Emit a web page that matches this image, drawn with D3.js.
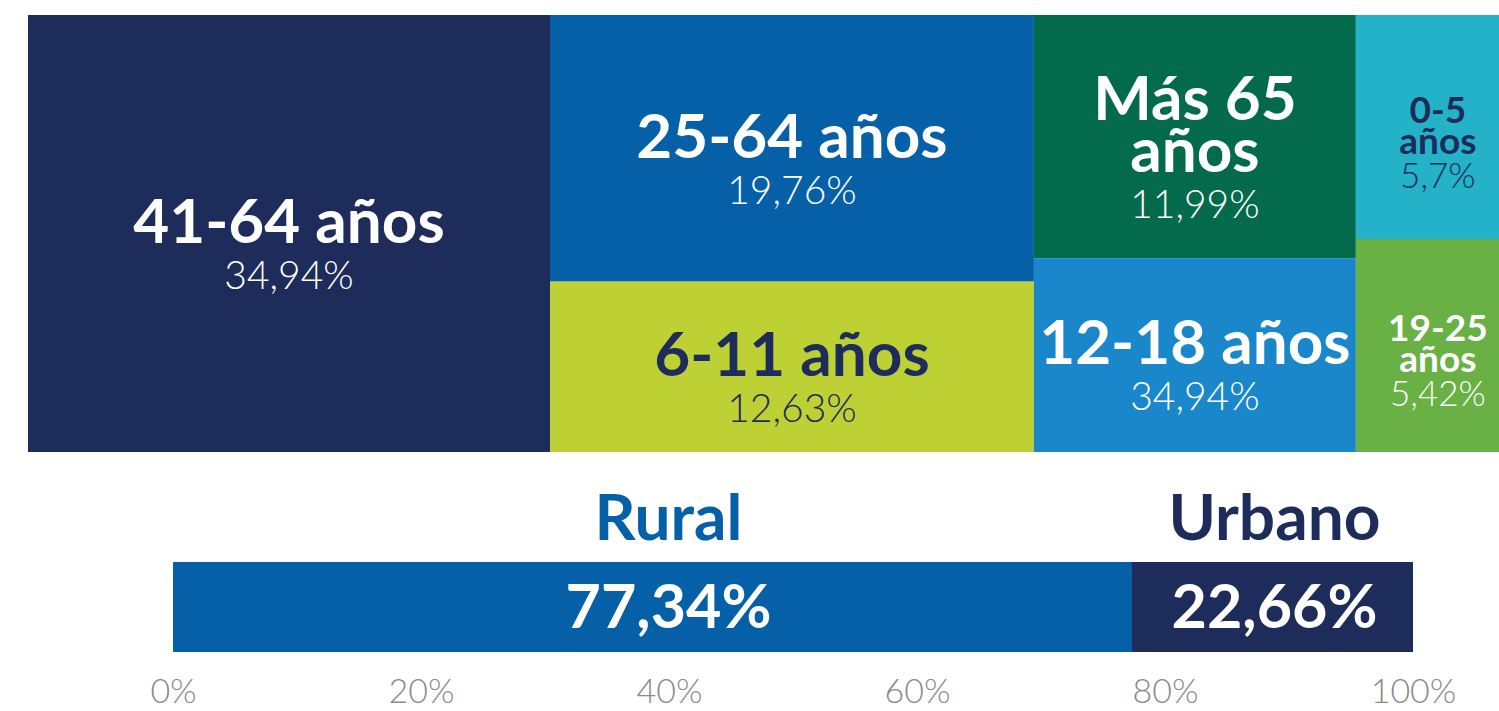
<!DOCTYPE html>
<html>
<head>
<meta charset="utf-8">
<script src="https://cdn.jsdelivr.net/npm/d3@7"></script>
<style>
  body { margin: 0; background: #fff; }
  svg { display: block; font-family: Lato, "Open Sans", sans-serif; }
</style>
</head>
<body>
<svg id="chart" width="1499" height="711"></svg>
<script>
// grupos de edad (treemap), con los saltos de línea de la imagen
const grupos = [["41-64 años"], ["25-64 años"], ["6-11 años"], ["Más 65", "años"], ["12-18 años"], ["0-5", "años"], ["19-25", "años"]];
const porcentajes = [34.94, 19.76, 12.63, 11.99, 9.56, 5.7, 5.42];
// texto tal como aparece en la imagen
const etiquetas = ["34,94%", "19,76%", "12,63%", "11,99%", "34,94%", "5,7%", "5,42%"];
const columna = [0, 1, 1, 2, 2, 3, 3];
const colores = ["#1e2c5b", "#0560a8", "#bdd034", "#036b4b", "#1a87cb", "#23b2c7", "#69b145"];
const colorTexto = ["#fff", "#fff", "#1e2c5b", "#fff", "#fff", "#1e2c5b", "#fff"];

// zona rural / urbana
const zonas = ["Rural", "Urbano"];
const zonaValores = [77.34, 22.66];
const zonaEtiquetas = ["77,34%", "22,66%"];
const zonaColores = ["#0560a8", "#1e2c5b"];
const ticks = [0, 20, 40, 60, 80, 100];

const svg = d3.select("#chart");

// ---- treemap ----
var tm = { left: 28, top: 15, w: 1494, h: 437 };

var cols = d3.range(d3.max(columna) + 1).map(c => ({
  children: grupos.map((g, i) => ({ lines: g, value: porcentajes[i], i: i }))
                  .filter(d => columna[d.i] === c)
}));

var root = d3.hierarchy({ children: cols })
  .sum(d => d.value || 0);

d3.treemap()
  .tile(d3.treemapSliceDice)
  .size([tm.w, tm.h])
  .round(false)(root);

var g = svg.append("g").attr("transform", `translate(${tm.left},${tm.top})`);

var cell = g.selectAll(".cell")
  .data(root.leaves())
  .enter().append("g")
  .attr("class", "cell");

cell.append("rect")
  .attr("x", d => d.x0)
  .attr("y", d => d.y0)
  .attr("width", d => d.x1 - d.x0)
  .attr("height", d => d.y1 - d.y0)
  .attr("fill", d => colores[d.data.i]);

cell.each(function(d) {
  var w = d.x1 - d.x0;
  var small = w < 200;
  var fsT = small ? 37 : 62;
  var fsP = small ? 35 : 39;
  var lh = small ? 31 : 52;
  var gap = small ? 34 : 46;
  var cx = (d.x0 + d.x1) / 2;
  if (small) cx = d.x0 + 82;
  var sel = d3.select(this);
  var col = colorTexto[d.data.i];
  var lines = d.data.lines;

  var cap = fsT * 0.72;
  var block = cap + (lines.length - 1) * lh + gap;
  var top = (d.y0 + d.y1) / 2 + (small ? 15 : 10) - block / 2;
  var b0 = top + cap;

  lines.forEach((t, j) => {
    sel.append("text")
      .attr("x", cx)
      .attr("y", b0 + j * lh)
      .attr("text-anchor", "middle")
      .attr("font-size", fsT)
      .attr("font-weight", 700)
      .attr("fill", col)
      .text(t);
  });
  sel.append("text")
    .attr("x", cx)
    .attr("y", b0 + (lines.length - 1) * lh + gap)
    .attr("text-anchor", "middle")
    .attr("font-size", fsP)
    .attr("font-weight", 300)
    .attr("fill", col)
    .text(etiquetas[d.data.i]);
});

// ---- barra rural / urbano ----
var x = d3.scaleLinear().domain([0, 100]).range([173, 1413]);
var barY = 562, barH = 90;

var acc = 0;
var segs = zonaValores.map((v, i) => {
  var s = { start: acc, end: acc + v, i: i };
  acc += v;
  return s;
});

svg.selectAll(".seg")
  .data(segs)
  .enter().append("rect")
  .attr("class", "seg")
  .attr("x", d => x(d.start))
  .attr("y", barY)
  .attr("width", d => x(d.end) - x(d.start))
  .attr("height", barH)
  .attr("fill", d => zonaColores[d.i]);

svg.selectAll(".segpct")
  .data(segs)
  .enter().append("text")
  .attr("x", d => x((d.start + d.end) / 2) + (d.i === 0 ? 16 : 2))
  .attr("y", barY + 66)
  .attr("text-anchor", "middle")
  .attr("font-size", 61)
  .attr("font-weight", 700)
  .attr("fill", "#fff")
  .text(d => zonaEtiquetas[d.i]);

svg.selectAll(".segname")
  .data(segs)
  .enter().append("text")
  .attr("x", d => x((d.start + d.end) / 2) + (d.i === 0 ? 16 : 2))
  .attr("y", barY - 22)
  .attr("text-anchor", "middle")
  .attr("font-size", 64)
  .attr("font-weight", 700)
  .attr("fill", d => zonaColores[d.i])
  .text(d => zonas[d.i]);

var axis = svg.append("g")
  .attr("transform", `translate(0, ${barY + barH})`)
  .call(d3.axisBottom(x).tickValues(ticks).tickFormat(d => d + "%").tickSize(0).tickPadding(27));

axis.select(".domain").remove();
axis.selectAll("text")
  .attr("font-family", "Lato, sans-serif")
  .attr("font-size", 34)
  .attr("font-weight", 300)
  .attr("fill", "#8a8a8a");
</script>
</body>
</html>
